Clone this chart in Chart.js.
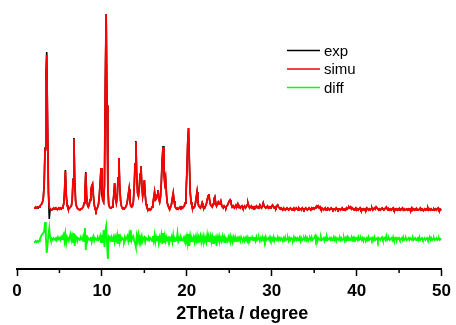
<!DOCTYPE html>
<html>
<head>
<meta charset="utf-8">
<script src="https://cdn.jsdelivr.net/npm/chart.js"></script>
<style>
  html, body { margin: 0; padding: 0; background: #fff; }
  #chartCanvas { display: block; }
</style>
</head>
<body>
<canvas id="chartCanvas" width="456" height="325"></canvas>
<script>
// Messraster: 2 Theta von 2.0 bis 50.0 in Schritten von 0.1
const angleStart = 2.0;
const angleStep = 0.1;

// Intensitäten (a.u.), eine Zeile = 1 Grad
const expData = [
  2, 2, 2, 2, 3, 2, 3, 4, 5, 6,
  8, 12, 26, 62, 132, 158, 88, 19, -9, 1,
  1, 0, 1, 1, 1, 2, 1, 1, 1, 2,
  1, 2, 1, 2, 3, 6, 18, 40, 15, 5,
  2, 1, 2, 3, 4, 9, 31, 72, 30, 9,
  4, 2, 1, 1, 0, 1, 1, 2, 3, 7,
  18, 38, 14, 5, 3, 5, 10, 20, 24, 26,
  14, 5, 1, -1, 1, 3, 6, 15, 28, 42,
  15, 10, 8, 25, 126, 196, 104, 22, 6, 3,
  2, 2, 3, 6, 15, 27, 12, 7, 12, 32,
  52, 24, 9, 4, 2, 1, 2, 2, 3, 5,
  9, 15, 21, 9, 4, 3, 4, 8, 22, 46,
  69, 34, 17, 14, 22, 36, 44, 25, 14, 20,
  30, 15, 6, 3, 1, 0, 1, 0, 1, 3,
  6, 12, 18, 10, 11, 15, 20, 11, 8, 13,
  28, 50, 64, 38, 27, 32, 16, 7, 4, 2,
  1, 3, 6, 12, 17, 9, 4, 2, 1, 1,
  1, 2, 3, 2, 3, 2, 3, 4, 7, 15,
  36, 66, 82, 48, 18, 8, 4, 3, 2, 3,
  6, 12, 18, 8, 4, 3, 2, 4, 7, 4,
  3, 2, 4, 6, 10, 14, 16, 9, 5, 4,
  3, 6, 11, 13, 7, 4, 6, 8, 6, 7,
  9, 5, 3, 2, 4, 3, 2, 4, 5, 7,
  9, 10, 7, 4, 3, 4, 2, 3, 5, 4,
  6, 3, 4, 2, 3, 4, 2, 3, 4, 2,
  3, 5, 7, 4, 2, 3, 4, 2, 3, 2,
  3, 2, 4, 3, 2, 3, 5, 3, 2, 4,
  7, 4, 3, 2, 3, 4, 2, 3, 2, 3,
  4, 5, 3, 2, 3, 2, 4, 5, 3, 2,
  1, 2, 1, 0, 2, 1, 0, 1, 2, 1,
  0, 1, 2, 1, 0, 1, 2, 0, 1, 2,
  1, 0, 2, 1, 1, 0, 2, 1, 0, 1,
  2, 1, 0, 1, 2, 1, 0, 2, 1, 2,
  1, 2, 3, 4, 3, 4, 2, 3, 1, 2,
  1, 0, 1, 2, 0, 1, 2, 1, 0, 1,
  2, 1, 0, 1, 1, 0, 2, 1, 0, 1,
  1, 0, 1, 2, 0, 1, 1, 0, 2, 1,
  2, 3, 2, 3, 1, 2, 1, 0, 1, 2,
  0, 1, 0, 1, 2, 0, 1, 0, 1, 0,
  1, 0, 2, 1, 0, 1, 0, 1, 2, 0,
  1, 2, 1, 3, 2, 1, 0, 1, 0, 1,
  2, 1, 0, 1, 2, 3, 1, 0, 1, 0,
  1, 0, 1, 2, 0, 1, 0, 1, 0, 1,
  0, 1, 0, 1, 2, 0, 1, 0, 0, 1,
  0, 1, 0, 1, 0, 2, 0, 1, 0, 1,
  0, 1, 0, 0, 1, 2, 0, 1, 0, 0,
  1, 0, 1, 0, 2, 0, 1, 0, 1, 0,
  0, 1, 0, 1, 0, 1, 2, 0, 1, 0,
  1
];

const simuData = [
  2, 2, 3, 2, 2, 3, 3, 4, 5, 6,
  8, 12, 25, 60, 128, 155, 85, 18, 3, 1,
  1, 0, 1, 2, 1, 1, 2, 1, 1, 2,
  1, 2, 1, 2, 3, 6, 18, 39, 15, 5,
  2, 1, 2, 3, 4, 9, 30, 71, 30, 9,
  4, 2, 1, 1, 0, 1, 1, 2, 3, 7,
  18, 37, 14, 5, 3, 5, 10, 20, 24, 26,
  14, 5, 1, -1, 1, 3, 6, 15, 28, 42,
  22, 10, 8, 25, 125, 196, 105, 22, 6, 3,
  2, 2, 3, 6, 15, 27, 12, 7, 12, 32,
  52, 24, 9, 4, 2, 1, 2, 2, 3, 5,
  9, 15, 21, 9, 4, 3, 4, 8, 22, 46,
  68, 34, 17, 14, 22, 36, 44, 25, 14, 20,
  30, 15, 6, 3, 1, 0, 1, 0, 1, 3,
  6, 12, 18, 10, 11, 15, 20, 11, 8, 13,
  28, 50, 63, 38, 27, 32, 16, 7, 4, 2,
  1, 3, 6, 12, 17, 9, 4, 2, 1, 2,
  1, 2, 3, 2, 3, 2, 3, 4, 7, 15,
  36, 66, 82, 48, 18, 8, 4, 3, 2, 3,
  6, 12, 18, 8, 4, 3, 2, 4, 7, 4,
  3, 2, 4, 6, 10, 14, 16, 9, 5, 4,
  3, 6, 11, 13, 7, 4, 6, 8, 6, 7,
  9, 5, 3, 2, 4, 3, 2, 4, 5, 7,
  9, 10, 7, 4, 3, 4, 2, 3, 5, 4,
  6, 3, 4, 2, 3, 4, 2, 3, 4, 2,
  3, 5, 7, 4, 2, 3, 4, 2, 3, 2,
  3, 2, 4, 3, 2, 3, 5, 3, 2, 4,
  7, 4, 3, 2, 3, 4, 2, 3, 2, 3,
  4, 5, 3, 2, 3, 2, 4, 5, 3, 2,
  1, 2, 1, 0, 2, 1, 0, 1, 2, 1,
  0, 1, 2, 1, 0, 1, 2, 0, 1, 2,
  1, 0, 2, 1, 1, 0, 2, 1, 0, 1,
  2, 1, 0, 1, 2, 1, 0, 2, 1, 2,
  1, 2, 3, 4, 3, 4, 2, 3, 1, 2,
  1, 0, 1, 2, 0, 1, 2, 1, 0, 1,
  2, 1, 0, 1, 1, 0, 2, 1, 0, 1,
  1, 0, 1, 2, 0, 1, 1, 0, 2, 1,
  2, 3, 2, 3, 1, 2, 1, 0, 1, 2,
  0, 1, 0, 1, 2, 0, 1, 0, 1, 0,
  1, 0, 2, 1, 0, 1, 0, 1, 2, 0,
  1, 2, 1, 3, 2, 1, 0, 1, 0, 1,
  2, 1, 0, 1, 2, 3, 1, 0, 1, 0,
  1, 0, 1, 2, 0, 1, 0, 1, 0, 1,
  0, 1, 0, 1, 2, 0, 1, 0, 0, 1,
  0, 1, 0, 1, 0, 2, 0, 1, 0, 1,
  0, 1, 0, 0, 1, 2, 0, 1, 0, 0,
  1, 0, 1, 0, 2, 0, 1, 0, 1, 0,
  0, 1, 0, 1, 0, 1, 2, 0, 1, 0,
  1
];

const diffData = [
  -3, -3, -2, -3, -2, -3, -2, 0, 2, 4,
  5, 6, 8, 17, 2, -14, -6, 4, 11, 2,
  -1, 0, -1, 1, 0, -1, 1, 0, 2, 0,
  1, -1, 2, 0, 3, 5, -2, 5, -4, 2,
  0, -2, 2, 5, -1, 3, -3, 6, -7, 3,
  2, -2, 1, 0, -1, 2, 0, -1, 3, -2,
  11, -11, 4, -2, 1, 0, -1, 2, -3, 1,
  3, -2, 1, 0, -1, 2, -1, 0, 3, -3,
  4, -4, 9, -8, 8, 13, -5, -20, 3, 2,
  -1, 2, -2, 1, 3, -3, 2, -1, 4, -4,
  5, -3, 2, -1, 1, 0, -2, 2, -1, 1,
  3, -2, 4, -3, 9, -1, 2, 3, -2, -4,
  -8, 3, -2, 4, -3, 2, -1, 3, -2, 1,
  2, -3, 1, 0, -1, 2, -1, 1, 0, -2,
  3, -2, 4, -3, 2, -1, 3, -4, 2, -1,
  4, -5, 6, -4, 3, -2, 2, -1, 1, -2,
  1, -1, 2, -3, 4, -2, 1, 0, -1, 6,
  -2, 1, -1, 2, 0, -1, 1, -2, 2, -1,
  3, -4, 5, -7, 3, -2, 1, -1, 2, -3,
  2, -2, 3, -4, 2, -1, 3, -3, 2, -2,
  3, -2, 1, -3, 4, -2, 2, -1, 3, -3,
  2, -4, 3, -2, 1, -7, 2, -1, 3, -2,
  1, -2, 3, -1, 2, -3, 1, 0, -2, 2,
  -1, 3, -2, 1, -3, 2, -1, 2, -2, 1,
  2, -1, 1, -2, 2, 0, -1, 1, -2, 1,
  -1, 2, -1, 1, -2, 1, 0, 2, -1, 1,
  1, -2, 2, -1, 0, 1, -2, 1, -1, 2,
  -1, 1, -2, 2, -1, 0, 1, -1, 2, -1,
  1, -1, 2, -2, 1, 0, -1, 2, -1, 1,
  -1, 1, 0, -2, 1, -1, 2, -1, 0, 1,
  -2, 1, -1, 1, 0, -1, 2, -1, 1, -1,
  1, -1, 0, 2, -2, 1, -1, 0, 1, -1,
  2, -1, 1, -2, 0, 1, -1, 2, -1, 0,
  1, 3, -1, 2, -2, 1, 0, -1, 2, -1,
  0, 1, -2, 1, -1, 2, -1, 0, 1, -1,
  1, -1, 0, 2, -1, 1, -2, 1, 0, -1,
  2, -1, 1, -1, 0, 1, -2, 1, -1, 2,
  -1, 1, 0, -1, 2, -1, 1, -2, 1, 0,
  1, -1, 2, -1, 0, 1, -1, 1, -2, 1,
  0, -1, 1, -1, 2, -1, 0, 1, -1, 1,
  -1, 2, -1, 0, 1, -2, 1, 0, -1, 1,
  2, -1, 0, 1, -1, 3, -1, 0, 1, -1,
  0, 1, -1, 2, -1, 0, 1, -2, 1, 0,
  1, -1, 0, 1, -1, 2, -1, 0, 1, -1,
  0, 1, -1, 1, 0, -1, 2, -1, 0, 1,
  -1, 0, 1, -1, 2, -1, 0, 1, -1, 0,
  1, -1, 0, 1, -1, 0, 2, -1, 1, -1,
  0, 1, -1, 0, 1, -1, 0, 1, -1, 0,
  0
];

// Differenzkurve wird nach unten versetzt gezeichnet
const diffOffset = -29;

const seriesNames = ['exp', 'simu', 'diff'];
const seriesColors = ['#000000', '#ff0000', '#00ff00'];
const xTitle = '2Theta / degree';
const minorTicks = [5, 15, 25, 35, 45];

const fontFamily = "'Liberation Sans', Arial, Helvetica, sans-serif";

function toPoints(values, shift) {
    return values.map((v, i) => ({
        x: +(angleStart + i * angleStep).toFixed(1),
        y: v + shift
    }));
}

// Nebenstriche auf der x-Achse
const minorTickPlugin = {
    id: 'minorTicks',
    afterDraw(chart) {
        const ctx = chart.ctx;
        const scale = chart.scales.x;
        const y0 = chart.chartArea.bottom;
        ctx.save();
        ctx.strokeStyle = '#000';
        ctx.lineWidth = 1.5;
        minorTicks.forEach(v => {
            const px = scale.getPixelForValue(v);
            ctx.beginPath();
            ctx.moveTo(px, y0);
            ctx.lineTo(px, y0 + 4);
            ctx.stroke();
        });
        ctx.restore();
    }
};

// Legende oben rechts im Diagramm
const legendPlugin = {
    id: 'innerLegend',
    afterDraw(chart) {
        const ctx = chart.ctx;
        const x0 = 287, x1 = 320, rowY = [50.5, 69, 87.5];
        ctx.save();
        ctx.font = '15px ' + fontFamily;
        ctx.textBaseline = 'middle';
        ctx.textAlign = 'left';
        seriesNames.forEach((name, i) => {
            ctx.strokeStyle = seriesColors[i];
            ctx.lineWidth = 1.5;
            ctx.beginPath();
            ctx.moveTo(x0, rowY[i]);
            ctx.lineTo(x1, rowY[i]);
            ctx.stroke();
            ctx.fillStyle = '#000';
            ctx.fillText(name, x1 + 4, rowY[i] + 1);
        });
        ctx.restore();
    }
};

// Achsentitel (leicht nach rechts versetzt wie im Original)
const axisTitlePlugin = {
    id: 'axisTitle',
    afterDraw(chart) {
        const ctx = chart.ctx;
        const area = chart.chartArea;
        ctx.save();
        ctx.font = 'bold 18px ' + fontFamily;
        ctx.fillStyle = '#000';
        ctx.textAlign = 'center';
        ctx.textBaseline = 'alphabetic';
        ctx.fillText(xTitle, (area.left + area.right) / 2 + 13, 319);
        ctx.restore();
    }
};

const ctx = document.getElementById('chartCanvas').getContext('2d');
new Chart(ctx, {
    type: 'line',
    data: {
        datasets: [
            {
                label: seriesNames[0],
                data: toPoints(expData, 0),
                borderColor: seriesColors[0],
                borderWidth: 1.6,
                pointRadius: 0,
                order: 2
            },
            {
                label: seriesNames[1],
                data: toPoints(simuData, 0),
                borderColor: seriesColors[1],
                borderWidth: 1.8,
                pointRadius: 0,
                order: 1
            },
            {
                label: seriesNames[2],
                data: toPoints(diffData, diffOffset),
                borderColor: seriesColors[2],
                borderWidth: 1.8,
                pointRadius: 0,
                order: 3
            }
        ]
    },
    options: {
        responsive: false,
        animation: false,
        devicePixelRatio: 1,
        layout: {
            padding: { left: 17, right: 10, top: 10, bottom: 0 }
        },
        plugins: {
            legend: { display: false },
            tooltip: { enabled: false }
        },
        scales: {
            x: {
                type: 'linear',
                min: 0,
                max: 50,
                afterFit(scale) { scale.height = 56; },
                border: { display: true, color: '#000', width: 2 },
                grid: {
                    drawOnChartArea: false,
                    drawTicks: true,
                    tickLength: 7,
                    tickWidth: 1.5,
                    tickColor: '#000'
                },
                ticks: {
                    stepSize: 10,
                    padding: 5,
                    color: '#000',
                    maxRotation: 0,
                    font: { family: fontFamily, size: 17, weight: 'bold' }
                }
            },
            y: {
                display: false,
                min: -59,
                max: 200
            }
        }
    },
    plugins: [minorTickPlugin, legendPlugin, axisTitlePlugin]
});
</script>
</body>
</html>
